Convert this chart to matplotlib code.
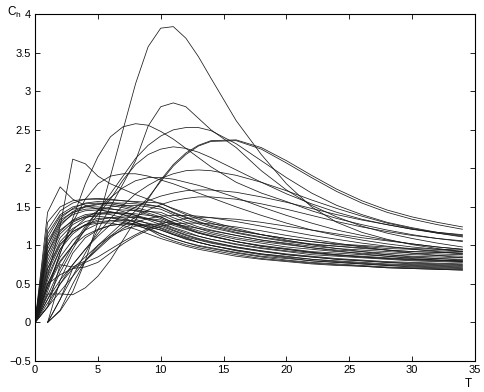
import matplotlib
matplotlib.use("Agg")
import matplotlib.pyplot as plt
import numpy as np

nan = np.nan

# temperature grid (integer steps early, every 2 later)
T = [0, 1, 2, 3, 4, 5, 6, 7, 8, 9, 10, 11, 12, 13, 14,
     16, 18, 20, 22, 24, 26, 28, 30, 32, 34]

# ── tall / late-peaking curves ────────────────────────────────────────────────
peak_384 = [nan, 0, 0.15, 0.4, 0.8, 1.3, 1.9, 2.5, 3.1, 3.58, 3.82, 3.84, 3.69, 3.45, 3.17,
            2.62, 2.18, 1.8, 1.5, 1.3, 1.17, 1.08, 1.01, 0.96, 0.92]
peak_285 = [nan, 0, 0.3, 0.6, 0.9, 1.2, 1.5, 1.8, 2.1, 2.55, 2.8, 2.85, 2.8, 2.65, 2.5,
            2.27, 1.97, 1.72, 1.52, 1.37, 1.25, 1.16, 1.09, 1.03, 0.98]
peak_258 = [0, 0.4, 0.9, 1.35, 1.8, 2.15, 2.41, 2.54, 2.58, 2.56, 2.48, 2.38, 2.26, 2.14, 2.02,
            1.82, 1.68, 1.57, 1.45, 1.35, 1.27, 1.2, 1.14, 1.09, 1.05]
peak_253 = [0, 0.3, 0.65, 0.95, 1.22, 1.45, 1.67, 1.9, 2.13, 2.3, 2.42, 2.5, 2.53, 2.53, 2.49,
            2.32, 2.1, 1.88, 1.68, 1.52, 1.4, 1.3, 1.23, 1.17, 1.13]
peak_238a = [0, 0.37, 0.37, 0.36, 0.45, 0.6, 0.81, 1.07, 1.33, 1.6, 1.85, 2.05, 2.2, 2.3, 2.36,
             2.37, 2.27, 2.1, 1.91, 1.73, 1.58, 1.46, 1.37, 1.3, 1.24]
peak_238b = [0, 0.2, 0.5, 0.7, 0.85, 1.0, 1.15, 1.3, 1.45, 1.62, 1.83, 2.03, 2.18, 2.29, 2.35,
             2.36, 2.25, 2.07, 1.88, 1.7, 1.55, 1.43, 1.34, 1.27, 1.21]
peak_228 = [0, 0.5, 0.8, 1.0, 1.2, 1.4, 1.6, 1.85, 2.05, 2.18, 2.25, 2.28, 2.26, 2.21, 2.14,
            1.98, 1.82, 1.67, 1.54, 1.43, 1.34, 1.27, 1.21, 1.17, 1.14]
peak_198 = [0, 0.3, 0.55, 0.75, 0.95, 1.15, 1.35, 1.52, 1.67, 1.78, 1.87, 1.93, 1.97, 1.98, 1.97,
            1.91, 1.82, 1.71, 1.59, 1.48, 1.38, 1.29, 1.22, 1.16, 1.11]
peak_212 = [0, 0.6, 1.25, 2.12, 2.06, 1.9, 1.8, 1.73, 1.66, 1.6, 1.54, 1.48, 1.42, 1.36, 1.31,
            1.22, 1.14, 1.07, 1.01, 0.96, 0.92, 0.88, 0.85, 0.83, 0.81]
peak_176 = [0, 1.43, 1.76, 1.6, 1.52, 1.47, 1.43, 1.4, 1.37, 1.34, 1.31, 1.28, 1.25, 1.22, 1.19,
            1.13, 1.07, 1.02, 0.97, 0.93, 0.89, 0.86, 0.83, 0.81, 0.79]
peak_193 = [0, 0.45, 0.9, 1.3, 1.6, 1.8, 1.9, 1.93, 1.93, 1.9, 1.85, 1.8, 1.74, 1.68, 1.62,
            1.5, 1.39, 1.29, 1.2, 1.13, 1.07, 1.02, 0.98, 0.95, 0.92]
peak_188 = [0, 0.35, 0.7, 1.0, 1.25, 1.45, 1.62, 1.75, 1.84, 1.88, 1.88, 1.86, 1.82, 1.78, 1.73,
            1.62, 1.5, 1.39, 1.29, 1.2, 1.13, 1.07, 1.02, 0.98, 0.95]
peak_172 = [0, 0.25, 0.5, 0.75, 0.95, 1.12, 1.27, 1.4, 1.5, 1.58, 1.64, 1.68, 1.71, 1.72, 1.72,
            1.69, 1.63, 1.56, 1.48, 1.4, 1.33, 1.27, 1.21, 1.16, 1.12]
peak_163 = [0, 0.2, 0.4, 0.6, 0.8, 0.97, 1.12, 1.25, 1.37, 1.46, 1.53, 1.58, 1.61, 1.63, 1.63,
            1.6, 1.54, 1.47, 1.39, 1.31, 1.24, 1.18, 1.13, 1.09, 1.06]

# ── main bundle ───────────────────────────────────────────────────────────────
b01 = [0, 1.0, 1.35, 1.48, 1.55, 1.57, 1.56, 1.53, 1.49, 1.45, 1.40, 1.33, 1.27, 1.22, 1.17,
       1.10, 1.05, 1.01, 0.97, 0.94, 0.92, 0.90, 0.88, 0.87, 0.86]
b02 = [0, 0.9, 1.25, 1.42, 1.5, 1.53, 1.52, 1.49, 1.45, 1.40, 1.35, 1.28, 1.22, 1.16, 1.12,
       1.05, 0.99, 0.95, 0.91, 0.88, 0.86, 0.84, 0.82, 0.81, 0.80]
b03 = [0, 1.2, 1.45, 1.55, 1.6, 1.61, 1.6, 1.58, 1.56, 1.53, 1.50, 1.42, 1.36, 1.30, 1.25,
       1.17, 1.11, 1.06, 1.02, 0.99, 0.97, 0.94, 0.92, 0.91, 0.90]
b04 = [0, 0.8, 1.15, 1.3, 1.38, 1.42, 1.43, 1.42, 1.39, 1.35, 1.30, 1.23, 1.18, 1.12, 1.08,
       1.01, 0.96, 0.92, 0.88, 0.86, 0.84, 0.82, 0.80, 0.79, 0.78]
b05 = [0, 0.7, 1.05, 1.22, 1.31, 1.35, 1.36, 1.34, 1.30, 1.25, 1.20, 1.14, 1.08, 1.04, 1.00,
       0.94, 0.89, 0.85, 0.82, 0.79, 0.77, 0.75, 0.74, 0.73, 0.72]
b06 = [0, 1.1, 1.38, 1.47, 1.5, 1.5, 1.48, 1.44, 1.39, 1.33, 1.27, 1.20, 1.14, 1.09, 1.05,
       0.98, 0.93, 0.88, 0.85, 0.82, 0.80, 0.78, 0.76, 0.75, 0.74]
b07 = [0, 0.6, 0.95, 1.15, 1.27, 1.33, 1.36, 1.37, 1.36, 1.35, 1.33, 1.26, 1.21, 1.16, 1.12,
       1.05, 1.00, 0.96, 0.92, 0.90, 0.88, 0.86, 0.84, 0.83, 0.82]
b08 = [0, 0.95, 1.28, 1.4, 1.45, 1.46, 1.44, 1.40, 1.34, 1.28, 1.22, 1.15, 1.10, 1.04, 1.00,
       0.93, 0.88, 0.84, 0.80, 0.78, 0.76, 0.74, 0.72, 0.71, 0.70]
b09 = [0, 0.5, 0.85, 1.07, 1.2, 1.28, 1.32, 1.33, 1.32, 1.29, 1.25, 1.19, 1.13, 1.08, 1.04,
       0.98, 0.93, 0.89, 0.86, 0.83, 0.81, 0.79, 0.78, 0.77, 0.76]
b10 = [0, 1.3, 1.5, 1.58, 1.6, 1.6, 1.59, 1.58, 1.57, 1.56, 1.55, 1.47, 1.40, 1.34, 1.29,
       1.20, 1.14, 1.09, 1.05, 1.01, 0.99, 0.96, 0.95, 0.93, 0.92]
b11 = [0, 0.85, 1.18, 1.33, 1.4, 1.42, 1.40, 1.36, 1.30, 1.23, 1.15, 1.09, 1.04, 0.99, 0.96,
       0.90, 0.85, 0.81, 0.78, 0.76, 0.74, 0.72, 0.71, 0.70, 0.69]
b12 = [0, 0.75, 1.1, 1.27, 1.36, 1.40, 1.42, 1.42, 1.41, 1.39, 1.37, 1.30, 1.24, 1.19, 1.15,
       1.08, 1.03, 0.98, 0.95, 0.92, 0.90, 0.88, 0.86, 0.85, 0.84]
b13 = [0, 0.65, 1.0, 1.18, 1.27, 1.31, 1.32, 1.30, 1.26, 1.21, 1.12, 1.06, 1.01, 0.97, 0.94,
       0.88, 0.83, 0.80, 0.77, 0.75, 0.73, 0.71, 0.70, 0.69, 0.68]
b14 = [0, 1.05, 1.33, 1.43, 1.47, 1.48, 1.47, 1.46, 1.45, 1.44, 1.43, 1.36, 1.30, 1.24, 1.20,
       1.13, 1.07, 1.03, 0.99, 0.96, 0.94, 0.92, 0.90, 0.89, 0.88]
b15 = [0, 0.55, 0.95, 1.2, 1.35, 1.45, 1.5, 1.52, 1.52, 1.5, 1.47, 1.40, 1.33, 1.28, 1.23,
       1.16, 1.10, 1.05, 1.01, 0.99, 0.96, 0.94, 0.92, 0.91, 0.90]
b16 = [0, 0.9, 1.2, 1.32, 1.37, 1.38, 1.36, 1.32, 1.27, 1.21, 1.15, 1.09, 1.04, 1.00, 0.97,
       0.91, 0.86, 0.83, 0.80, 0.78, 0.76, 0.74, 0.73, 0.72, 0.71]
b17 = [0, 0.45, 0.78, 1.0, 1.13, 1.21, 1.26, 1.28, 1.28, 1.26, 1.23, 1.17, 1.11, 1.07, 1.03,
       0.97, 0.92, 0.88, 0.85, 0.82, 0.80, 0.78, 0.77, 0.76, 0.75]
b18 = [0, 1.15, 1.4, 1.5, 1.54, 1.55, 1.54, 1.51, 1.47, 1.42, 1.37, 1.29, 1.23, 1.17, 1.13,
       1.05, 0.99, 0.95, 0.91, 0.88, 0.85, 0.83, 0.81, 0.80, 0.79]
b19 = [0, 0.7, 1.02, 1.18, 1.26, 1.29, 1.29, 1.26, 1.21, 1.15, 1.09, 1.04, 0.99, 0.95, 0.92,
       0.86, 0.82, 0.79, 0.76, 0.74, 0.73, 0.71, 0.70, 0.69, 0.68]
b20 = [0, 1.0, 1.3, 1.44, 1.51, 1.54, 1.55, 1.55, 1.54, 1.52, 1.50, 1.43, 1.37, 1.31, 1.26,
       1.19, 1.14, 1.09, 1.05, 1.02, 1.00, 0.98, 0.96, 0.95, 0.94]

# ── slow risers ───────────────────────────────────────────────────────────────
s01 = [nan, 0, 0.16, 0.5, 0.8, 1.0, 1.12, 1.2, 1.25, 1.27, 1.28, 1.22, 1.16, 1.12, 1.08,
       1.02, 0.97, 0.93, 0.90, 0.87, 0.85, 0.83, 0.82, 0.81, 0.80]
s02 = [nan, 0, 0.55, 0.9, 1.1, 1.2, 1.26, 1.28, 1.27, 1.24, 1.20, 1.14, 1.09, 1.04, 1.00,
       0.94, 0.89, 0.86, 0.82, 0.80, 0.78, 0.76, 0.75, 0.74, 0.73]
s03 = [nan, 0, 0.3, 0.7, 0.72, 0.78, 0.9, 1.02, 1.12, 1.2, 1.25, 1.28, 1.29, 1.29, 1.28,
       1.24, 1.19, 1.13, 1.08, 1.03, 0.98, 0.94, 0.9, 0.87, 0.84]
m01 = [0, 0.2, 0.75, 0.72, 0.8, 0.95, 1.1, 1.22, 1.3, 1.35, 1.38, 1.39, 1.39, 1.38, 1.36,
       1.31, 1.25, 1.19, 1.13, 1.08, 1.03, 0.99, 0.95, 0.92, 0.89]
m02 = [0, 0.5, 0.62, 0.7, 0.78, 0.85, 0.95, 1.05, 1.14, 1.22, 1.28, 1.32, 1.35, 1.36, 1.36,
       1.34, 1.3, 1.25, 1.2, 1.15, 1.1, 1.06, 1.02, 0.98, 0.95]

series = [peak_384, peak_285, peak_258, peak_253, peak_238a, peak_238b, peak_228,
          peak_198, peak_212, peak_176, peak_193, peak_188, peak_172, peak_163,
          b01, b02, b03, b04, b05, b06, b07, b08, b09, b10, b11, b12, b13, b14,
          b15, b16, b17, b18, b19, b20, s01, s02, s03, m01, m02]

plt.rcParams.update({
    "font.family": ["Liberation Sans", "DejaVu Sans"],
    "font.size": 8,
    "mathtext.default": "regular",
    "axes.linewidth": 0.8,
})

fig = plt.figure(figsize=(4.85, 3.92), dpi=100)
ax = fig.add_axes([0.0722, 0.0791, 0.9072, 0.8844])

for ys in series:
    ax.plot(T, ys, color="#1a1a1a", linewidth=0.55)

ax.set_xlim(0, 35)
ax.set_ylim(-0.5, 4)
ax.set_xticks(range(0, 36, 5))
ax.set_yticks(np.arange(-0.5, 4.01, 0.5))
ax.set_yticklabels(["\u22120.5", "0", "0.5", "1", "1.5", "2", "2.5", "3", "3.5", "4"])
ax.tick_params(direction="in", length=3.5, width=0.6, top=True, right=True,
               pad=3, colors="black")

fig.text(14 / 485, 1 - 12 / 392, r"$C_h$", ha="center", va="center", fontsize=8.5)
fig.text(468 / 485, 1 - 384 / 392, "T", ha="center", va="center", fontsize=8.5)

fig.savefig("out.png", dpi=100, facecolor="white")
